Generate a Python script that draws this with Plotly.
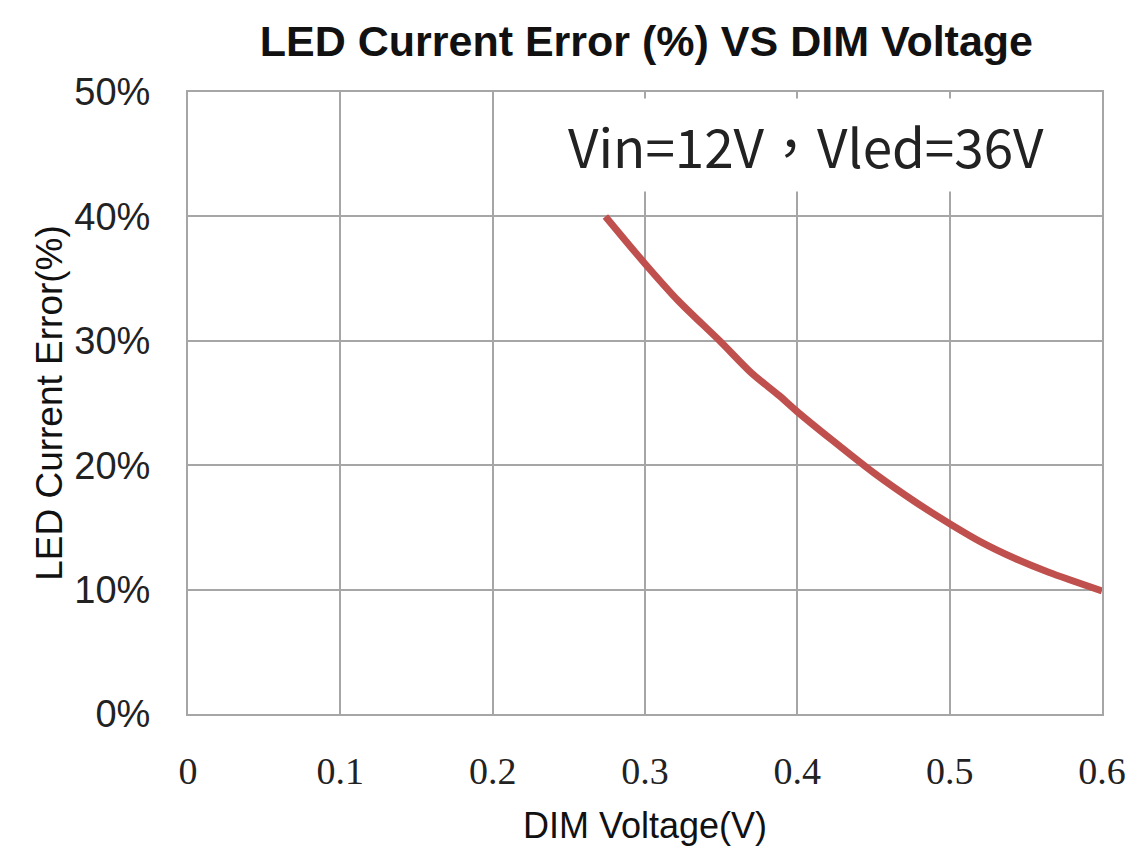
import plotly.graph_objects as go

# DIM voltage (V) vs LED current error (%)
dim_v = [0.274, 0.300, 0.322, 0.349, 0.370, 0.388, 0.400, 0.423, 0.450, 0.478, 0.500, 0.521, 0.543, 0.565, 0.600]
err_pct = [40.0, 36.2, 33.2, 30.0, 27.4, 25.6, 24.3, 22.0, 19.4, 17.0, 15.3, 13.8, 12.5, 11.4, 9.9]

x_ticks = [0, 0.1, 0.2, 0.3, 0.4, 0.5, 0.6]
x_labels = ["0", "0.1", "0.2", "0.3", "0.4", "0.5", "0.6"]
y_ticks = [0, 10, 20, 30, 40, 50]
y_labels = ["0%", "10%", "20%", "30%", "40%", "50%"]

grid = "#a6a6a6"

fig = go.Figure()
fig.add_scatter(x=dim_v, y=err_pct, mode="lines",
                line=dict(color="#c0504d", width=7, shape="spline", smoothing=0.8),
                showlegend=False, hoverinfo="skip")

fig.update_layout(
    width=1140, height=850,
    margin=dict(l=180, r=46, t=84, b=144),
    paper_bgcolor="white", plot_bgcolor="white",
    title=dict(text="<b>LED Current Error (%) VS DIM Voltage</b>",
               x=0.56, xanchor="center", y=0.961, yanchor="middle",
               font=dict(family="Liberation Sans, Arial", size=43, color="#111")),
    annotations=[dict(text="Vin=12V，Vled=36V", x=0.406, y=45.7, xref="x", yref="y",
                      showarrow=False, bgcolor="white", borderpad=8,
                      font=dict(family="Noto Sans CJK TC, Open Sans", size=53, color="#222"))],
)

fig.update_xaxes(range=[0, 0.6], tickvals=x_ticks, ticktext=x_labels,
                 showgrid=True, gridcolor=grid, gridwidth=2,
                 showline=True, linecolor=grid, linewidth=2, mirror=True,
                 zeroline=False, ticks="", ticklabelstandoff=22,
                 tickfont=dict(family="Liberation Serif, Times New Roman", size=38, color="#222"),
                 title=dict(text="DIM Voltage(V)", standoff=22,
                            font=dict(family="Liberation Sans, Arial", size=36, color="#111")))
fig.update_yaxes(range=[0, 50], tickvals=y_ticks, ticktext=y_labels,
                 showgrid=True, gridcolor=grid, gridwidth=2,
                 showline=True, linecolor=grid, linewidth=2, mirror=True,
                 zeroline=False, ticks="", ticklabelstandoff=28,
                 tickfont=dict(family="Liberation Sans, Arial", size=38, color="#222"),
                 title=dict(text="LED Current Error(%)", standoff=0,
                            font=dict(family="Liberation Sans, Arial", size=37, color="#111")))

fig.write_html("out.html")
